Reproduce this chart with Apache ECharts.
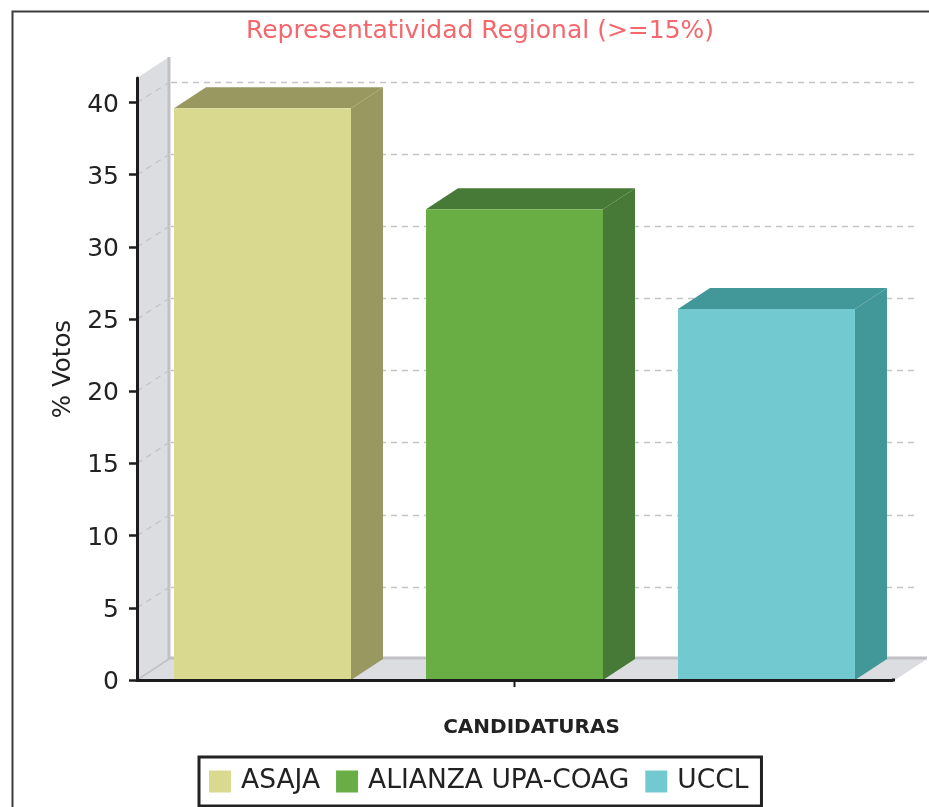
<!DOCTYPE html>
<html>
<head>
<meta charset="utf-8">
<title>Representatividad Regional</title>
<style>
    html, body { margin: 0; padding: 0; background: #fff; }
    #main { width: 929px; height: 807px; }
</style>
<script src="https://cdn.jsdelivr.net/npm/echarts@6/dist/echarts.min.js"></script>
</head>
<body>
<div id="main"></div>
<script>
var candidaturas = ['ASAJA', 'ALIANZA UPA-COAG', 'UCCL'];
var votos = [39.6, 32.6, 25.7];
var colores = ['#d9da8f', '#69ae45', '#72cad0'];
var coloresOscuros = ['#999860', '#477a37', '#429899'];
var yTicks = [0, 5, 10, 15, 20, 25, 30, 35, 40];
var yTop = 41.7; // el eje sube un poco por encima del 40

var FONT = '"DejaVu Sans", sans-serif';
var DX = 32, DY = -21; // profundidad del efecto 3D
var BAR_W = 177, BAR_STEP = 252;
var GRID = { left: 137, top: 78, width: 755, height: 602 };

// paredes, suelo y rejilla punteada
function renderWalls(params, api) {
    var o = api.coord([0, 0]);
    var left = GRID.left, bottom = o[1];
    var top = api.coord([0, yTop])[1];
    var children = [
        { type: 'polygon', shape: { points: [[left, bottom], [left + DX, bottom + DY], [left + DX, top + DY], [left, top]] }, style: { fill: '#dcdde0' } },
        { type: 'polygon', shape: { points: [[left, bottom], [left + DX, bottom + DY], [927, bottom + DY], [895, bottom]] }, style: { fill: '#dcdde0' } },
        { type: 'line', shape: { x1: left + DX, y1: top + DY, x2: left + DX, y2: bottom + DY }, style: { stroke: '#c1c1c5', lineWidth: 3 } },
        { type: 'line', shape: { x1: left + DX, y1: bottom + DY - 1, x2: 927, y2: bottom + DY - 1 }, style: { stroke: '#c1c1c5', lineWidth: 3 } },
        { type: 'line', shape: { x1: left, y1: bottom, x2: left + DX, y2: bottom + DY }, style: { stroke: '#c1c1c5', lineWidth: 1.5 } },
        { type: 'line', shape: { x1: GRID.left + GRID.width, y1: bottom, x2: 895, y2: bottom }, style: { stroke: '#1c1c1c', lineWidth: 3 } },
        // marca central del eje x
        { type: 'line', shape: { x1: o[0], y1: bottom, x2: o[0], y2: bottom + 7 }, style: { stroke: '#1c1c1c', lineWidth: 2 } }
    ];
    yTicks.forEach(function (v) {
        if (v === 0) return;
        var y = api.coord([0, v])[1];
        var yBack = Math.round(y + DY) + 0.5;
        var dash = { stroke: '#c4c4c8', lineWidth: 1.3, lineDash: [6, 5] };
        children.push({ type: 'line', shape: { x1: left, y1: y, x2: left + DX, y2: yBack }, style: dash });
        children.push({ type: 'line', shape: { x1: left + DX + 2, y1: yBack, x2: 919, y2: yBack }, style: dash });
    });
    return { type: 'group', children: children };
}

// cada barra: cara frontal, tapa y lateral
function renderBar(index) {
    return function (params, api) {
        var base = api.coord([0, 0]);
        var tope = api.coord([0, api.value(1)]);
        var x0 = base[0] + (index - 1) * BAR_STEP - BAR_W / 2;
        var x1 = x0 + BAR_W;
        return {
            type: 'group',
            children: [
                { type: 'polygon', shape: { points: [[x0, tope[1]], [x1, tope[1]], [x1 + DX, tope[1] + DY], [x0 + DX, tope[1] + DY]] }, style: { fill: coloresOscuros[index] } },
                { type: 'polygon', shape: { points: [[x1, tope[1]], [x1 + DX, tope[1] + DY], [x1 + DX, base[1] + DY], [x1, base[1]]] }, style: { fill: coloresOscuros[index] } },
                { type: 'rect', shape: { x: x0, y: tope[1], width: BAR_W, height: base[1] - tope[1] }, style: { fill: colores[index] } }
            ]
        };
    };
}

var series = [{
    name: 'paredes',
    type: 'custom',
    silent: true,
    z: 1,
    renderItem: renderWalls,
    data: [[0, 0]]
}];
candidaturas.forEach(function (nombre, i) {
    series.push({
        name: nombre,
        type: 'custom',
        z: 2,
        itemStyle: { color: colores[i] },
        renderItem: renderBar(i),
        data: [[0, votos[i]]]
    });
});

var myChart = echarts.init(document.getElementById('main'), null, { renderer: 'canvas' });
myChart.setOption({
    animation: false,
    backgroundColor: '#fff',
    textStyle: { fontFamily: FONT },
    title: {
        text: 'Representatividad Regional (>=15%)',
        left: 475,
        top: 14,
        textAlign: 'center',
        textStyle: { color: '#f4676c', fontSize: 25, fontWeight: 'normal', fontFamily: FONT }
    },
    legend: {
        data: candidaturas,
        left: 199,
        top: 757,
        icon: 'rect',
        itemWidth: 22,
        itemHeight: 22,
        itemGap: 16,
        padding: [11, 13, 11, 10],
        backgroundColor: '#fff',
        borderColor: '#222',
        borderWidth: 3,
        borderRadius: 0,
        selectedMode: false,
        textStyle: { color: '#222', fontSize: 26.5, lineHeight: 22, fontFamily: FONT, padding: [0, 0, 0, 5] }
    },
    grid: GRID,
    xAxis: {
        type: 'category',
        data: [''],
        name: 'CANDIDATURAS',
        nameLocation: 'middle',
        nameGap: 38,
        nameTextStyle: { color: '#222', fontSize: 20, fontWeight: 'bold', fontFamily: FONT, padding: [0, 0, 0, 34] },
        axisLine: { lineStyle: { color: '#1c1c1c', width: 3 } },
        axisTick: { show: false },
        axisLabel: { show: false },
        z: 5
    },
    yAxis: {
        type: 'value',
        min: 0,
        max: yTop,
        name: '% Votos',
        nameLocation: 'middle',
        nameGap: 56,
        nameRotate: 90,
        nameTextStyle: { color: '#222', fontSize: 24.5, fontFamily: FONT, padding: [0, 0, 0, 20] },
        axisLine: { show: true, onZero: false, lineStyle: { color: '#1c1c1c', width: 3 } },
        axisTick: { show: true, length: 8, customValues: yTicks, lineStyle: { color: '#1c1c1c', width: 2.5 } },
        axisLabel: { customValues: yTicks, color: '#222', fontSize: 25, margin: 18, verticalAlign: 'top', lineHeight: 5, fontFamily: FONT },
        splitLine: { show: false },
        z: 5
    },
    graphic: [{
        type: 'polyline',
        silent: true,
        z: 10,
        shape: { points: [[12.5, 807], [12.5, 11.5], [929, 11.5]] },
        style: { stroke: '#3c3c3c', lineWidth: 2, fill: 'none' }
    }],
    series: series
});
</script>
</body>
</html>
